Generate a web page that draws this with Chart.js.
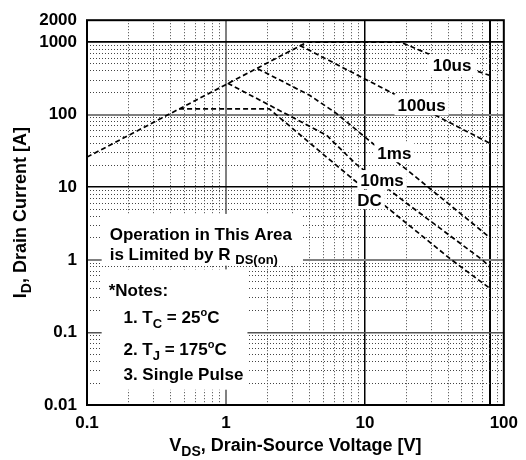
<!DOCTYPE html>
<html><head><meta charset="utf-8">
<script src="https://cdn.jsdelivr.net/npm/chart.js@4.4.1/dist/chart.umd.min.js"></script>
<style>html,body{margin:0;padding:0;background:#fff}#wrap{width:526px;height:460px;position:relative}</style>
</head><body><div id="wrap"><canvas id="c" width="526" height="460"></canvas></div>
<script>
// ---------- data (V_DS in volts, I_D in amps) ----------
const xTickValues = [0.1, 1, 10, 100];
const xTickLabels = ['0.1', '1', '10', '100'];
const yTickValues = [0.01, 0.1, 1, 10, 100, 1000, 2000];
const yTickLabels = ['0.01', '0.1', '1', '10', '100', '1000', '2000'];

const rdsV   = [0.1, 3.85];
const rdsI   = [26, 1000];
const us10V  = [3.85, 18, 28, 45, 80];
const us10I  = [1000, 1000, 700, 500, 345];
const us100V = [3.4, 10, 80];
const us100I = [900, 310, 40];
const ms1V   = [1.69, 4.0, 6.2, 11.4, 20, 80];
const ms1I   = [430, 185, 105, 40, 17.5, 2.0];
const ms10V  = [1.03, 5.3, 8.6, 20, 70, 80];
const ms10I  = [271, 52, 21, 6, 1.0, 0.78];
const dcV    = [0.46, 2.05, 5.3, 13, 42, 80];
const dcI    = [120, 120, 26, 6.2, 1.0, 0.4];
const vdssLimit = 80;

const curveLabels = ['10us', '100us', '1ms', '10ms', 'DC'];

// ---------- helpers ----------
const FONT = '"Liberation Sans", Arial, Helvetica, sans-serif';
function pts(V, I) { return V.map((v, i) => ({ x: v, y: I[i] })); }
function decadeTicks(lo, hi, extra) {
  const out = [];
  for (let d = Math.round(Math.log10(lo)); d < Math.round(Math.log10(hi)); d++) {
    for (let m = 1; m <= 9; m++) out.push(Number((m * Math.pow(10, d)).toPrecision(3)));
  }
  out.push(hi);
  (extra || []).forEach(v => { if (!out.includes(v)) out.push(v); });
  return out.sort((a, b) => a - b);
}
function labelFor(values, labels, v) {
  const i = values.findIndex(t => Math.abs(t - v) / t < 1e-6);
  return i >= 0 ? labels[i] : '';
}
const xMajor = { 1: { c: '#808080', w: 2 }, 10: { c: '#000', w: 1.5 }, 80: { c: '#000', w: 2 } };
const yMajor = { 1000: { c: '#000', w: 1.8 }, 100: { c: '#808080', w: 2 }, 10: { c: '#000', w: 1.5 }, 1: { c: '#808080', w: 2 }, 0.1: { c: '#555', w: 1.5 } };
const MINOR_COLOR = '#444';
function styleOf(map, v) {
  for (const k in map) if (Math.abs(Number(k) - v) / v < 1e-6) return map[k];
  return null;
}

// rich text: parts = [{t, sub, sup}]
function richWidth(ctx, parts, size) {
  let w = 0;
  parts.forEach(p => {
    const s = p.sub || p.sup ? Math.round(size * (p.sub ? 0.76 : 0.65)) : size;
    ctx.font = 'bold ' + s + 'px ' + FONT;
    w += ctx.measureText(p.t).width;
  });
  return w;
}
function drawRich(ctx, parts, x, y, size) {
  let cx = x;
  parts.forEach(p => {
    const s = p.sub || p.sup ? Math.round(size * (p.sub ? 0.76 : 0.65)) : size;
    ctx.font = 'bold ' + s + 'px ' + FONT;
    const dy = p.sub ? size * 0.28 : (p.sup ? -size * 0.42 : 0);
    ctx.fillText(p.t, cx, y + dy);
    cx += ctx.measureText(p.t).width;
  });
}

// annotation groups (positions in data coordinates)
const annoGroups = [
  { pad: [14, 11, 6, 8], align: 'left', size: 17, lines: [
    { x: 0.1456, y: 1.866, parts: [{ t: 'Operation in This Area' }] },
    { x: 0.1456, y: 1.005, parts: [{ t: 'is Limited by R ' }, { t: 'DS(on)', sub: true }] } ] },
  { pad: [14, 4, 10, 7], align: 'left', size: 17, lines: [
    { x: 0.1432, y: 0.321, parts: [{ t: '*Notes:' }] },
    { x: 0.183, y: 0.134, parts: [{ t: '1. T' }, { t: 'C', sub: true }, { t: ' = 25' }, { t: 'o', sup: true }, { t: 'C' }] },
    { x: 0.183, y: 0.0486, parts: [{ t: '2. T' }, { t: 'J', sub: true }, { t: ' = 175' }, { t: 'o', sup: true }, { t: 'C' }] },
    { x: 0.183, y: 0.0223, parts: [{ t: '3. Single Pulse' }] } ] },
  { pad: [5, 4, 4, 4], align: 'center', size: 17, lines: [{ x: 42.4, y: 397, parts: [{ t: curveLabels[0] }] }] },
  { pad: [5, 3, 4, 3], align: 'center', size: 17, lines: [{ x: 25.6, y: 111.6, parts: [{ t: curveLabels[1] }] }] },
  { pad: [4, 3, 3, 3], align: 'center', size: 17, lines: [{ x: 16.3, y: 24.3, parts: [{ t: curveLabels[2] }] }] },
  { pad: [4, 3, 3, 3], align: 'center', size: 17, lines: [{ x: 13.3, y: 10.3, parts: [{ t: curveLabels[3] }] }] },
  { pad: [4, 3, 3, 3], align: 'center', size: 17, lines: [{ x: 10.8, y: 5.48, parts: [{ t: curveLabels[4] }] }] }
];

const annoPlugin = {
  id: 'annos',
  afterDatasetsDraw(chart) {
    const ctx = chart.ctx, xs = chart.scales.x, ys = chart.scales.y;
    ctx.save();
    annoGroups.forEach(g => {
      let l = Infinity, r = -Infinity, t = Infinity, b = -Infinity;
      const placed = g.lines.map(ln => {
        const w = richWidth(ctx, ln.parts, g.size);
        let px = xs.getPixelForValue(ln.x);
        if (g.align === 'center') px -= w / 2;
        const py = ys.getPixelForValue(ln.y);
        l = Math.min(l, px); r = Math.max(r, px + w);
        t = Math.min(t, py - g.size * 0.72); b = Math.max(b, py);
        return { px, py, ln };
      });
      ctx.fillStyle = '#fff';
      ctx.fillRect(l - g.pad[3], t - g.pad[0], (r - l) + g.pad[1] + g.pad[3], (b - t) + g.pad[0] + g.pad[2]);
      ctx.fillStyle = '#000';
      ctx.textBaseline = 'alphabetic';
      ctx.textAlign = 'left';
      placed.forEach(p => drawRich(ctx, p.ln.parts, p.px, p.py, g.size));
    });
    // frame
    const a = chart.chartArea;
    ctx.strokeStyle = '#000';
    ctx.lineWidth = 2;
    ctx.strokeRect(a.left, a.top, a.right - a.left, a.bottom - a.top);
    ctx.restore();
  },
  afterDraw(chart) {
    const ctx = chart.ctx, a = chart.chartArea;
    ctx.save();
    ctx.fillStyle = '#000';
    ctx.textBaseline = 'alphabetic';
    ctx.textAlign = 'left';
    const size = 18;
    const xt = [{ t: 'V' }, { t: 'DS', sub: true }, { t: ', Drain-Source Voltage [V]' }];
    const wx = richWidth(ctx, xt, size);
    drawRich(ctx, xt, (a.left + a.right) / 2 - wx / 2, a.bottom + 46, size);
    const yt = [{ t: 'I' }, { t: 'D', sub: true }, { t: ', Drain Current [A]' }];
    const wy = richWidth(ctx, yt, size);
    ctx.translate(26, (a.top + a.bottom) / 2);
    ctx.rotate(-Math.PI / 2);
    drawRich(ctx, yt, -wy / 2, 0, size);
    ctx.restore();
  }
};

const dashed = { borderColor: '#000', borderWidth: 1.7, borderDash: [5, 3], pointRadius: 0, fill: false, tension: 0, showLine: true };

new Chart(document.getElementById('c'), {
  type: 'line',
  data: {
    datasets: [
      Object.assign({ label: 'RDS(on) limit', data: pts(rdsV, rdsI) }, dashed),
      Object.assign({ label: curveLabels[0], data: pts(us10V, us10I) }, dashed),
      Object.assign({ label: curveLabels[1], data: pts(us100V, us100I) }, dashed),
      Object.assign({ label: curveLabels[2], data: pts(ms1V, ms1I) }, dashed),
      Object.assign({ label: curveLabels[3], data: pts(ms10V, ms10I) }, dashed),
      Object.assign({ label: curveLabels[4], data: pts(dcV, dcI) }, dashed)
    ]
  },
  plugins: [annoPlugin],
  options: {
    responsive: false,
    devicePixelRatio: 1,
    animation: false,
    parsing: false,
    layout: { padding: { top: 20, right: 16, left: 0, bottom: 0 } },
    plugins: { legend: { display: false }, tooltip: { enabled: false } },
    scales: {
      x: {
        type: 'logarithmic', min: 0.1, max: 100,
        afterBuildTicks: s => { s.ticks = decadeTicks(0.1, 100, [vdssLimit]).map(v => ({ value: v })); },
        afterFit: s => { s.height = 55; },
        ticks: {
          autoSkip: false, maxRotation: 0, padding: 8, color: '#000',
          font: { family: FONT, size: 17, weight: 'bold' },
          callback: v => labelFor(xTickValues, xTickLabels, v)
        },
        grid: {
          drawTicks: false,
          color: c => { const s = styleOf(xMajor, c.tick.value); return s ? s.c : MINOR_COLOR; },
          lineWidth: c => { const s = styleOf(xMajor, c.tick.value); return s ? s.w : 1; }
        },
        border: { display: false, dash: c => (c.tick && styleOf(xMajor, c.tick.value)) ? [] : [1, 2] }
      },
      y: {
        type: 'logarithmic', min: 0.01, max: 2000,
        afterBuildTicks: s => { s.ticks = decadeTicks(0.01, 1000, [2000]).map(v => ({ value: v })); },
        afterFit: s => { s.width = 87; },
        ticks: {
          autoSkip: false, padding: 10, color: '#000',
          font: { family: FONT, size: 17, weight: 'bold' },
          callback: v => labelFor(yTickValues, yTickLabels, v)
        },
        grid: {
          drawTicks: false,
          color: c => { const s = styleOf(yMajor, c.tick.value); return s ? s.c : MINOR_COLOR; },
          lineWidth: c => { const s = styleOf(yMajor, c.tick.value); return s ? s.w : 1; }
        },
        border: { display: false, dash: c => (c.tick && styleOf(yMajor, c.tick.value)) ? [] : [1, 2] }
      }
    }
  }
});
</script></body></html>
